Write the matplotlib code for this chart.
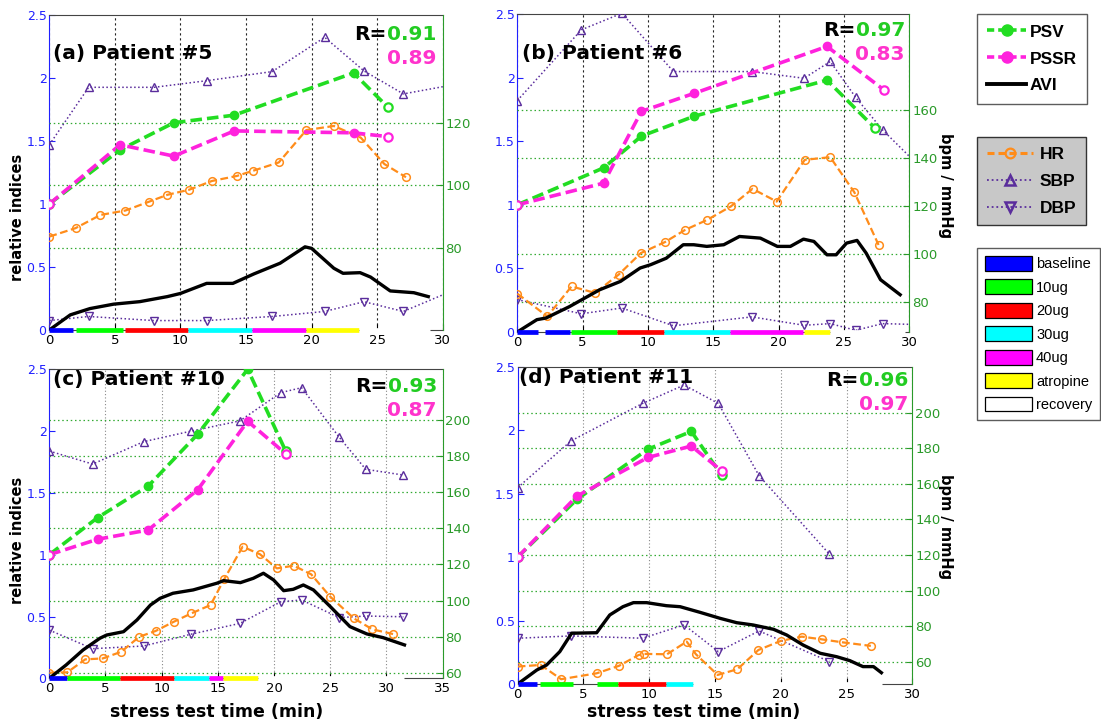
import matplotlib
matplotlib.use('Agg')
import matplotlib.pyplot as plt
from matplotlib.lines import Line2D
from matplotlib.patches import Patch

W, H = 1101, 727

C_PSV = '#22dd22'
C_PSSR = '#ff22dd'
C_AVI = 'black'
C_HR = '#ff8c1a'
C_BP = '#5a2d9c'
C_LEFT = '#2020ff'
C_RIGHT = '#2a9a2a'
C_RTXT_G = '#22cc22'
C_RTXT_M = '#ff33cc'

phase_names = ['baseline', '10ug', '20ug', '30ug', '40ug', 'atropine', 'recovery']
phase_colors = ['#0000ff', '#00ff00', '#ff0000', '#00ffff', '#ff00ff', '#ffff00', '#ffffff']

# ---------------- Patient #5 ----------------
a_psv_t = [0, 5.4, 9.5, 14.1, 23.2, 25.8]
a_psv = [1.0, 1.43, 1.645, 1.705, 2.04, 1.77]
a_pssr_t = [0, 5.4, 9.5, 14.1, 23.2, 25.8]
a_pssr = [1.0, 1.47, 1.38, 1.58, 1.565, 1.535]
a_avi_t = [0, 1.6, 3.1, 4.9, 6.9, 9.0, 10.0, 12.0, 14.0, 15.6, 17.6, 19.5, 20.0,
           21.7, 22.4, 23.7, 24.5, 26.0, 27.8, 28.9]
a_avi = [0, 0.12, 0.17, 0.205, 0.225, 0.265, 0.29, 0.37, 0.37, 0.445, 0.53, 0.66,
         0.648, 0.49, 0.45, 0.455, 0.42, 0.31, 0.296, 0.265]
a_hr_t = [0, 2.0, 3.9, 5.8, 7.6, 9.0, 10.65, 12.4, 14.3, 15.5, 17.5, 19.6, 21.7,
          23.75, 25.55, 27.2]
a_hr = [83.7, 86.4, 90.6, 92.0, 94.8, 97.0, 98.6, 101.4, 103.0, 104.6, 107.3,
        117.6, 118.9, 115.2, 106.8, 102.6]
a_bp_t = [0, 3.0, 8.0, 12.0, 17.0, 21.0, 24.0, 27.0, 32.0]
a_sbp = [112.9, 131.2, 131.2, 133.3, 136.2, 147.1, 136.4, 129.1, 132.9]
a_dbp = [57.0, 58.3, 57.0, 57.0, 58.3, 59.9, 63.0, 59.9, 68.7]
a_phase_start = [0, 2.0, 5.75, 10.6, 15.45, 19.55, 23.65]
a_phase_end = [1.8, 5.65, 10.55, 15.45, 19.55, 23.65, 29.0]
a_phase_idx = [0, 1, 2, 3, 4, 5, 6]
a_r = ['0.91', '0.89']

# ---------------- Patient #6 ----------------
b_psv_t = [0, 6.6, 9.5, 13.5, 23.7, 27.4]
b_psv = [1.0, 1.29, 1.54, 1.695, 1.98, 1.60]
b_pssr_t = [0, 6.6, 9.5, 13.5, 23.7, 28.1]
b_pssr = [1.0, 1.17, 1.735, 1.875, 2.245, 1.90]
b_avi_t = [0, 1.5, 2.2, 4.0, 6.3, 7.9, 9.4, 10.2, 11.4, 12.7, 13.5, 14.5, 15.8, 17.0,
           18.6, 19.9, 20.9, 21.9, 22.7, 23.7, 24.4, 25.2, 26.0, 26.7, 27.8, 29.3]
b_avi = [0, 0.097, 0.11, 0.2, 0.332, 0.398, 0.503, 0.529, 0.58, 0.686, 0.686, 0.673,
         0.686, 0.751, 0.738, 0.673, 0.673, 0.73, 0.712, 0.607, 0.607, 0.699, 0.72,
         0.62, 0.411, 0.293]
b_hr_t = [0, 2.3, 4.15, 5.95, 7.75, 9.45, 11.3, 12.85, 14.55, 16.35, 18.0, 19.85,
          22.0, 23.95, 25.8, 27.65]
b_hr = [83.5, 74.0, 86.5, 83.8, 91.4, 100.4, 105.0, 110.1, 114.3, 119.9, 127.2,
        121.9, 139.3, 140.4, 125.7, 103.8]
b_bp_t = [0, 4.9, 8.0, 11.95, 17.95, 21.95, 23.95, 25.9, 27.95, 32.0]
b_sbp = [164.0, 193.5, 200.4, 176.1, 176.1, 173.3, 180.3, 165.3, 151.8, 130.0]
b_dbp = [81.0, 75.1, 77.5, 70.1, 73.8, 70.3, 71.0, 68.2, 71.0, 70.4]
b_phase_start = [0, 2.15, 4.1, 7.65, 11.25, 16.3, 21.95, 23.9]
b_phase_end = [1.55, 4.0, 7.6, 11.2, 16.3, 21.9, 23.9, 29.7]
b_phase_idx = [0, 0, 1, 2, 3, 4, 5, 6]
b_r = ['0.97', '0.83']

# ---------------- Patient #10 ----------------
c_psv_t = [0, 4.3, 8.8, 13.2, 17.65, 21.05]
c_psv = [1.0, 1.30, 1.555, 1.975, 2.5, 1.835]
c_pssr_t = [0, 4.3, 8.8, 13.2, 17.65, 21.05]
c_pssr = [1.0, 1.125, 1.2, 1.525, 2.08, 1.815]
c_avi_t = [0, 1.5, 3.0, 4.5, 5.1, 6.6, 7.8, 9.0, 9.85, 11.0, 12.8, 14.9, 15.5, 17.0,
           18.15, 19.05, 19.95, 20.85, 21.7, 22.6, 23.5, 25.0, 26.75, 28.25, 29.7, 31.6]
c_avi = [0, 0.108, 0.229, 0.324, 0.35, 0.377, 0.472, 0.593, 0.647, 0.688, 0.715,
         0.769, 0.79, 0.774, 0.809, 0.85, 0.796, 0.709, 0.72, 0.755, 0.715, 0.58,
         0.418, 0.359, 0.329, 0.27]
c_hr_t = [0, 1.6, 3.2, 4.75, 6.4, 8.0, 9.45, 11.1, 12.65, 14.35, 15.55, 17.2, 18.75,
          20.25, 21.75, 23.3, 25.0, 27.1, 28.75, 30.6]
c_hr = [60.0, 60.2, 67.4, 67.9, 71.6, 79.9, 83.1, 88.3, 92.9, 97.5, 111.7, 129.8,
        125.6, 117.8, 119.3, 114.5, 102.1, 90.1, 84.0, 81.4]
c_bp_t = [0, 3.85, 8.4, 12.65, 16.95, 20.6, 22.45, 25.8, 28.15, 31.5]
c_sbp = [182.8, 175.6, 188.0, 193.9, 199.5, 215.2, 217.9, 190.4, 172.7, 169.5]
c_dbp = [83.6, 73.3, 74.8, 81.4, 87.3, 99.3, 100.3, 90.5, 91.4, 91.0]
c_phase_start = [0, 1.55, 6.3, 11.05, 14.25, 15.45, 18.6]
c_phase_end = [1.55, 6.3, 11.05, 14.25, 15.45, 18.6, 31.6]
c_phase_idx = [0, 1, 2, 3, 4, 5, 6]
c_r = ['0.93', '0.87']

# ---------------- Patient #11 ----------------
d_psv_t = [0, 4.5, 9.9, 13.2, 15.5]
d_psv = [1.0, 1.455, 1.85, 1.99, 1.645]
d_pssr_t = [0, 4.5, 9.9, 13.2, 15.5]
d_pssr = [1.0, 1.48, 1.785, 1.875, 1.68]
d_avi_t = [0, 1.45, 2.2, 3.2, 4.1, 6.0, 7.0, 8.0, 8.8, 9.8, 11.3, 12.35, 13.85, 15.4,
           16.65, 17.9, 19.45, 20.45, 21.7, 23.0, 24.25, 25.25, 26.25, 27.05, 27.65]
d_avi = [0, 0.11, 0.15, 0.255, 0.40, 0.404, 0.544, 0.609, 0.641, 0.641, 0.617, 0.609,
         0.565, 0.517, 0.483, 0.465, 0.431, 0.386, 0.307, 0.242, 0.215, 0.184, 0.137,
         0.137, 0.089]
d_hr_t = [0, 1.75, 3.3, 6.0, 7.7, 9.2, 9.6, 11.35, 12.85, 13.55, 15.2, 16.7, 18.3,
          20.0, 21.6, 23.1, 24.7, 26.85]
d_hr = [57.4, 58.3, 50.3, 53.6, 57.8, 63.9, 64.5, 64.3, 71.4, 64.3, 52.7, 55.9, 66.7,
        71.8, 74.2, 72.7, 71.0, 69.0]
d_bp_t = [0, 4.05, 9.5, 12.65, 15.25, 18.35, 23.7]
d_sbp = [157.9, 184.1, 205.2, 215.5, 205.2, 164.6, 120.5]
d_dbp = [73.3, 74.6, 73.3, 80.8, 65.8, 77.4, 60.2]
d_phase_start = [0, 1.7, 6.0, 7.6, 11.3, 13.35]
d_phase_end = [1.5, 4.2, 7.6, 11.25, 13.35, 27.7]
d_phase_idx = [0, 1, 1, 2, 3, 6]
d_r = ['0.96', '0.97']

titles = ['(a) Patient #5', '(b) Patient #6', '(c) Patient #10', '(d) Patient #11']


def fx(x):
    return x / W


def fy(y):
    return 1 - y / H


fig = plt.figure(figsize=(W / 100, H / 100), dpi=100)
fig.patch.set_facecolor('white')


def draw_panel(box, xlim, rlim, rticks, psv_t, psv, pssr_t, pssr, avi_t, avi,
               hr_t, hr, bp_t, sbp, dbp, ph_s, ph_e, ph_i, title, rvals,
               title_xy, r_xy, grid_color, grid_ls):
    l, t, r, b = box
    ax = fig.add_axes([fx(l), fy(b), fx(r - l), (b - t) / H])
    ax.set_xlim(*xlim)
    ax.set_ylim(0, 2.5)
    ax.set_xticks(range(0, xlim[1] + 1, 5))
    ax.set_yticks([0, 0.5, 1, 1.5, 2, 2.5])
    ax.set_yticklabels(['0', '0.5', '1', '1.5', '2', '2.5'])
    ax.grid(axis='x', color=grid_color, ls=grid_ls, lw=0.8)
    ax.yaxis.set_ticks_position('both')
    ax.tick_params(axis='y', colors=C_LEFT, direction='in', length=4,
                   labelsize=9, pad=2)
    ax.tick_params(axis='x', colors='black', direction='in', length=4,
                   labelsize=9.5, pad=3)
    ax.spines['left'].set_color(C_LEFT)
    ax.spines['right'].set_visible(False)
    ax.spines['top'].set_color('#444444')
    ax.spines['bottom'].set_color('#444444')

    tw = ax.twinx()
    tw.set_ylim(*rlim)
    tw.set_yticks(rticks)
    tw.grid(axis='y', color='#33aa33', ls=(0, (1.2, 2.2)), lw=0.9)
    tw.tick_params(axis='y', colors=C_RIGHT, direction='in', length=4,
                   labelsize=9.5, pad=2)
    tw.spines['right'].set_color(C_RIGHT)
    tw.spines['left'].set_visible(False)
    tw.spines['top'].set_visible(False)
    tw.spines['bottom'].set_visible(False)
    for lab in tw.get_yticklabels():
        lab.set_color(C_RIGHT)

    # heart rate and blood pressure (right axis)
    tw.plot(bp_t, sbp, color=C_BP, ls=(0, (1, 1.6)), lw=1.1, marker='^', ms=6,
            mfc='none', mew=1.0, zorder=2)
    tw.plot(bp_t, dbp, color=C_BP, ls=(0, (1, 1.6)), lw=1.1, marker='v', ms=6,
            mfc='none', mew=1.0, zorder=2)
    tw.plot(hr_t, hr, color=C_HR, ls=(0, (3.5, 1.6)), lw=1.6, marker='o', ms=5.5,
            mfc='none', mew=1.1, zorder=3)

    # indices (left axis scale), drawn on the twin so they sit above the vitals
    def to_right(v):
        return [rlim[0] + vv / 2.5 * (rlim[1] - rlim[0]) for vv in v]

    tw.plot(avi_t, to_right(avi), color=C_AVI, lw=2.4, solid_joinstyle='round',
            zorder=4)
    for tt, vv, cc in ((psv_t, psv, C_PSV), (pssr_t, pssr, C_PSSR)):
        yy = to_right(vv)
        tw.plot(tt, yy, color=cc, ls=(0, (3.2, 1.4)), lw=2.6, zorder=5)
        tw.plot(tt[1:-1], yy[1:-1], ls='none', marker='o', ms=6, color=cc,
                zorder=6)
        tw.plot([tt[0], tt[-1]], [yy[0], yy[-1]], ls='none', marker='o', ms=6,
                mfc='white', mec=cc, mew=1.6, zorder=6)

    # protocol phase bar along the time axis
    for s, e, i in zip(ph_s, ph_e, ph_i):
        tw.plot([s, e], [rlim[0], rlim[0]], color=phase_colors[i], lw=3.4,
                solid_capstyle='butt', clip_on=False, zorder=7)

    fig.text(fx(title_xy[0]), fy(title_xy[1]), title, fontsize=14.5,
             fontweight='bold', ha='left', va='center', family='DejaVu Sans')
    t1 = fig.text(fx(r_xy[0]), fy(r_xy[1]), rvals[0], fontsize=14.5,
                  fontweight='bold', color=C_RTXT_G, ha='right', va='center')
    ax.annotate('R=', xy=(0, 0.5), xycoords=t1, fontsize=14.5,
                fontweight='bold', color='black', ha='right', va='center')
    fig.text(fx(r_xy[0]), fy(r_xy[1] + 24), rvals[1], fontsize=14.5,
             fontweight='bold', color=C_RTXT_M, ha='right', va='center')
    return ax, tw


draw_panel((49.3, 15, 442.7, 330), (0, 30), (54.0, 154.2), [80, 100, 120],
           a_psv_t, a_psv, a_pssr_t, a_pssr, a_avi_t, a_avi, a_hr_t, a_hr,
           a_bp_t, a_sbp, a_dbp, a_phase_start, a_phase_end, a_phase_idx,
           titles[0], a_r, (53, 53), (436, 35), '#222222', (0, (2, 2.5)))
draw_panel((517.3, 14, 909.3, 332), (0, 30), (67.5, 200.1),
           [80, 100, 120, 140, 160],
           b_psv_t, b_psv, b_pssr_t, b_pssr, b_avi_t, b_avi, b_hr_t, b_hr,
           b_bp_t, b_sbp, b_dbp, b_phase_start, b_phase_end, b_phase_idx,
           titles[1], b_r, (522, 53), (905, 30), '#222222', (0, (2, 2.5)))
draw_panel((49.3, 369.3, 442.7, 678.3), (0, 35), (56.9, 228.1),
           list(range(60, 201, 20)),
           c_psv_t, c_psv, c_pssr_t, c_pssr, c_avi_t, c_avi, c_hr_t, c_hr,
           c_bp_t, c_sbp, c_dbp, c_phase_start, c_phase_end, c_phase_idx,
           titles[2], c_r, (53, 380), (437, 386), '#888888', (0, (1, 2)))
draw_panel((517.7, 366.7, 912.3, 684), (0, 30), (47.6, 225.8),
           list(range(60, 201, 20)),
           d_psv_t, d_psv, d_pssr_t, d_pssr, d_avi_t, d_avi, d_hr_t, d_hr,
           d_bp_t, d_sbp, d_dbp, d_phase_start, d_phase_end, d_phase_idx,
           titles[3], d_r, (519, 378), (908, 381), '#888888', (0, (1, 2)))

# axis titles
for yc in (217, 540):
    fig.text(fx(18), fy(yc), 'relative indices', rotation=90, fontsize=10.5,
             fontweight='bold', ha='center', va='center')
for yc in (186, 527):
    fig.text(fx(946), fy(yc), 'bpm / mmHg', rotation=270, fontsize=10.5,
             fontweight='bold', ha='center', va='center')
for xc in (217, 694):
    fig.text(fx(xc), fy(712), 'stress test time (min)', fontsize=12.5,
             fontweight='bold', ha='center', va='center')

# legends
leg_font = {'family': 'Liberation Sans', 'weight': 'bold', 'size': 12.5}
h1 = [Line2D([], [], color=C_PSV, ls=(0, (2.0, 1.1)), lw=2.6, marker='o', ms=8),
      Line2D([], [], color=C_PSSR, ls=(0, (2.0, 1.1)), lw=2.6, marker='o', ms=8),
      Line2D([], [], color=C_AVI, lw=2.8)]
leg1 = fig.legend(h1, ['PSV', 'PSSR', 'AVI'], loc='upper left',
                  bbox_to_anchor=(fx(977), fy(14)), borderaxespad=0,
                  frameon=True, fancybox=False, edgecolor='#333333',
                  prop=leg_font, handlelength=2.2, labelspacing=0.68,
                  borderpad=0.6, handletextpad=0.25)
leg1.get_frame().set_linewidth(1.0)

h2 = [Line2D([], [], color=C_HR, ls=(0, (2.3, 1.3)), lw=2.2, marker='o', ms=7,
             mfc='none', mew=1.6),
      Line2D([], [], color=C_BP, ls=(0, (1, 1.6)), lw=1.3, marker='^', ms=7,
             mfc='none', mew=1.8),
      Line2D([], [], color=C_BP, ls=(0, (1, 1.6)), lw=1.3, marker='v', ms=7,
             mfc='none', mew=1.8)]
leg2 = fig.legend(h2, ['HR', 'SBP', 'DBP'], loc='upper left',
                  bbox_to_anchor=(fx(977), fy(137)), borderaxespad=0,
                  frameon=True, fancybox=False, edgecolor='#333333',
                  facecolor='#c8c8c8', framealpha=1,
                  prop=leg_font, handlelength=2.7, labelspacing=0.68,
                  borderpad=0.55, handletextpad=0.35)
leg2.get_frame().set_linewidth(1.0)

h3 = [Patch(facecolor=c, edgecolor='black', lw=0.9) for c in phase_colors]
leg3 = fig.legend(h3, phase_names, loc='upper left',
                  bbox_to_anchor=(fx(977), fy(248)), borderaxespad=0,
                  frameon=True, fancybox=False, edgecolor='#333333',
                  prop={'family': 'Liberation Sans', 'size': 10.5},
                  handlelength=3.2, handleheight=1.2, labelspacing=0.55,
                  borderpad=0.55, handletextpad=0.3)
leg3.get_frame().set_linewidth(1.0)

fig.savefig('out.png', dpi=100)
